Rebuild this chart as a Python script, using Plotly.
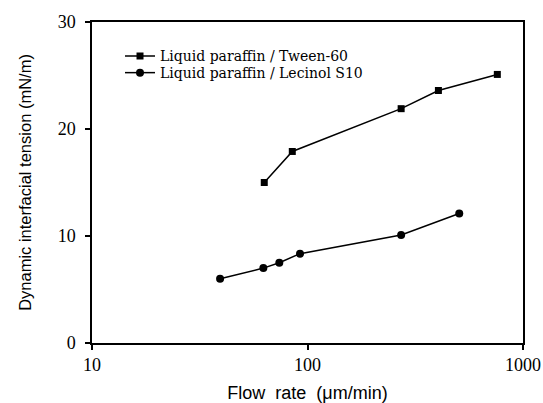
import plotly.graph_objects as go

tween_x = [63, 85, 272, 405, 760]
tween_y = [15.0, 17.9, 21.9, 23.6, 25.1]
lecinol_x = [39.3, 62.4, 74, 92.3, 272, 506]
lecinol_y = [6.0, 7.0, 7.5, 8.35, 10.1, 12.1]

series_names = ["Liquid paraffin / Tween-60", "Liquid paraffin / Lecinol S10"]
x_ticks = [10, 100, 1000]
y_ticks = [0, 10, 20, 30]

serif = "Liberation Serif, Times New Roman, serif"
wide_serif = "DejaVu Serif, serif"
sans = "Liberation Sans, Arial, sans-serif"

fig = go.Figure()
fig.add_trace(go.Scatter(x=tween_x, y=tween_y, mode="lines+markers", name=series_names[0],
                         line=dict(color="black", width=1.5),
                         marker=dict(symbol="square", size=7, color="black"),
                         legend="legend"))
fig.add_trace(go.Scatter(x=lecinol_x, y=lecinol_y, mode="lines+markers", name=series_names[1],
                         line=dict(color="black", width=1.5),
                         marker=dict(symbol="circle", size=8, color="black"),
                         legend="legend2"))

legend_common = dict(xanchor="left", yanchor="middle",
                     font=dict(family=wide_serif, size=14, color="black"),
                     bgcolor="rgba(0,0,0,0)", borderwidth=0, itemwidth=30)

fig.update_layout(
    template="none",
    width=543, height=403,
    margin=dict(l=92, r=20, t=22, b=60, autoexpand=False),
    paper_bgcolor="white", plot_bgcolor="white",
    showlegend=True,
    legend=dict(x=0.065, y=0.893, **legend_common),
    legend2=dict(x=0.065, y=0.841, **legend_common),
    xaxis=dict(type="log", range=[1, 3], tickvals=x_ticks, ticktext=[str(v) for v in x_ticks],
               automargin=False,
               showgrid=False, zeroline=False, showline=True, linecolor="black", linewidth=1.5,
               mirror=True, ticks="outside", ticklen=5, tickcolor="black", tickwidth=1.5,
               tickfont=dict(family=serif, size=18, color="black"),
               title=dict(text="Flow  rate  (\u03bcm/min)", font=dict(family=sans, size=18, color="black"),
                          standoff=14)),
    yaxis=dict(range=[0, 30], tickvals=y_ticks, showgrid=False, zeroline=False,
               automargin=False,
               showline=True, linecolor="black", linewidth=1.5, mirror=True,
               ticks="outside", ticklen=5, tickcolor="black", tickwidth=1.5, ticklabelstandoff=6,
               tickfont=dict(family=serif, size=18, color="black"),
               title=dict(text="Dynamic interfacial tension (mN/m)",
                          font=dict(family=sans, size=16.5, color="black"), standoff=22)),
)

fig.write_html("out.html")
